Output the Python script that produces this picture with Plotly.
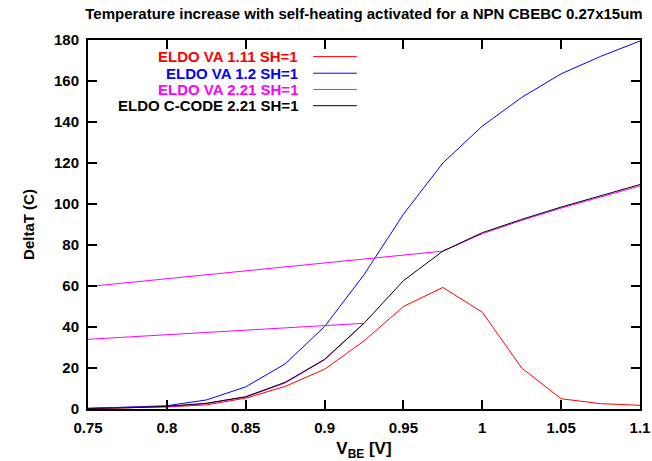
import plotly.graph_objects as go

vbe = [0.75, 0.775, 0.8, 0.825, 0.85, 0.875, 0.9, 0.925, 0.95, 0.975, 1.0, 1.025, 1.05, 1.075, 1.1]

red = [0.2, 0.5, 1.0, 2.0, 5.3, 11.0, 19.4, 33.2, 50.0, 59.3, 47.2, 20.0, 5.0, 2.6, 1.8]
blue = [0.3, 0.8, 1.6, 4.4, 10.8, 22.0, 40.2, 65.5, 95.0, 120.0, 138.0, 152.0, 163.5, 172.0, 179.5]
black = [0.3, 0.6, 1.3, 2.8, 6.0, 13.0, 24.2, 41.8, 62.6, 77.0, 86.0, 92.5, 98.5, 104.0, 109.5]

# ELDO VA 2.21: points in file order (several sweeps concatenated; the
# segment along x=0.75 is hidden under the axis in the original)
mag_x = [0.75, 0.775, 0.8, 0.825, 0.85, 0.875, 0.9, 0.925, 0.75, None, 0.75, 0.975, 1.0, 1.025, 1.05, 1.075, 1.1]
mag_y = [0.3, 0.6, 1.2, 2.6, 5.8, 12.7, 24.0, 41.8, 34.0, None, 59.7, 77.0, 85.5, 92.0, 98.0, 103.5, 108.8]

names = ["ELDO VA 1.11 SH=1", "ELDO VA 1.2 SH=1", "ELDO VA 2.21 SH=1", "ELDO C-CODE 2.21 SH=1"]
colors = ["#ff0000", "#0000ff", "#ff00ff", "#000000"]

xticks = [0.75, 0.8, 0.85, 0.9, 0.95, 1.0, 1.05, 1.1]
xticklabels = ["0.75", "0.8", "0.85", "0.9", "0.95", "1", "1.05", "1.1"]
yticks = list(range(0, 181, 20))

FONT = "Liberation Sans, Arial, sans-serif"

fig = go.Figure()
series = [(vbe, red), (vbe, blue), (mag_x, mag_y), (vbe, black)]
for (xs, ys), name, col in zip(series, names, colors):
    fig.add_trace(go.Scatter(x=xs, y=ys, mode="lines", name=name, connectgaps=False,
                             line=dict(color=col, width=1), showlegend=False))

# gnuplot-style key: right-aligned text with line sample to the right
row_y = [0.955, 0.910, 0.866, 0.822]
for name, col, yy in zip(names, colors, row_y):
    fig.add_annotation(x=0.384, y=yy, xref="paper", yref="paper", text=name,
                       showarrow=False, xanchor="right", yanchor="middle",
                       font=dict(family=FONT, size=15, color=col, weight="bold"))
    fig.add_shape(type="line", xref="paper", yref="paper", x0=0.408, x1=0.487,
                  y0=yy, y1=yy, line=dict(color=col, width=1))

axis_common = dict(showline=True, linecolor="black", linewidth=2, mirror="ticks",
                   ticks="inside", ticklen=9, tickwidth=2, tickcolor="black",
                   showgrid=False, zeroline=False, automargin=False,
                   layer="above traces",
                   tickfont=dict(family=FONT, size=15, color="black", weight="bold"))

fig.update_xaxes(range=[0.75, 1.1], tickvals=xticks, ticktext=xticklabels,
                 ticklabelstandoff=4,
                 title=dict(text="V<sub>BE</sub> [V]", standoff=10,
                            font=dict(family=FONT, size=17, color="black", weight="bold")),
                 **axis_common)
fig.update_yaxes(range=[0, 180], tickvals=yticks, ticklabelstandoff=4,
                 title=dict(text="DeltaT (C)", standoff=16,
                            font=dict(family=FONT, size=15, color="black", weight="bold")),
                 **axis_common)

fig.update_layout(
    width=652, height=461,
    margin=dict(l=88, r=12, t=40, b=52),
    plot_bgcolor="white", paper_bgcolor="white",
    title=dict(text="Temperature increase with self-heating activated for a NPN CBEBC 0.27x15um",
               x=0.5, xref="paper", xanchor="center", y=0.97, yanchor="middle",
               font=dict(family=FONT, size=15, color="black", weight="bold")),
)

fig.write_html("out.html")
